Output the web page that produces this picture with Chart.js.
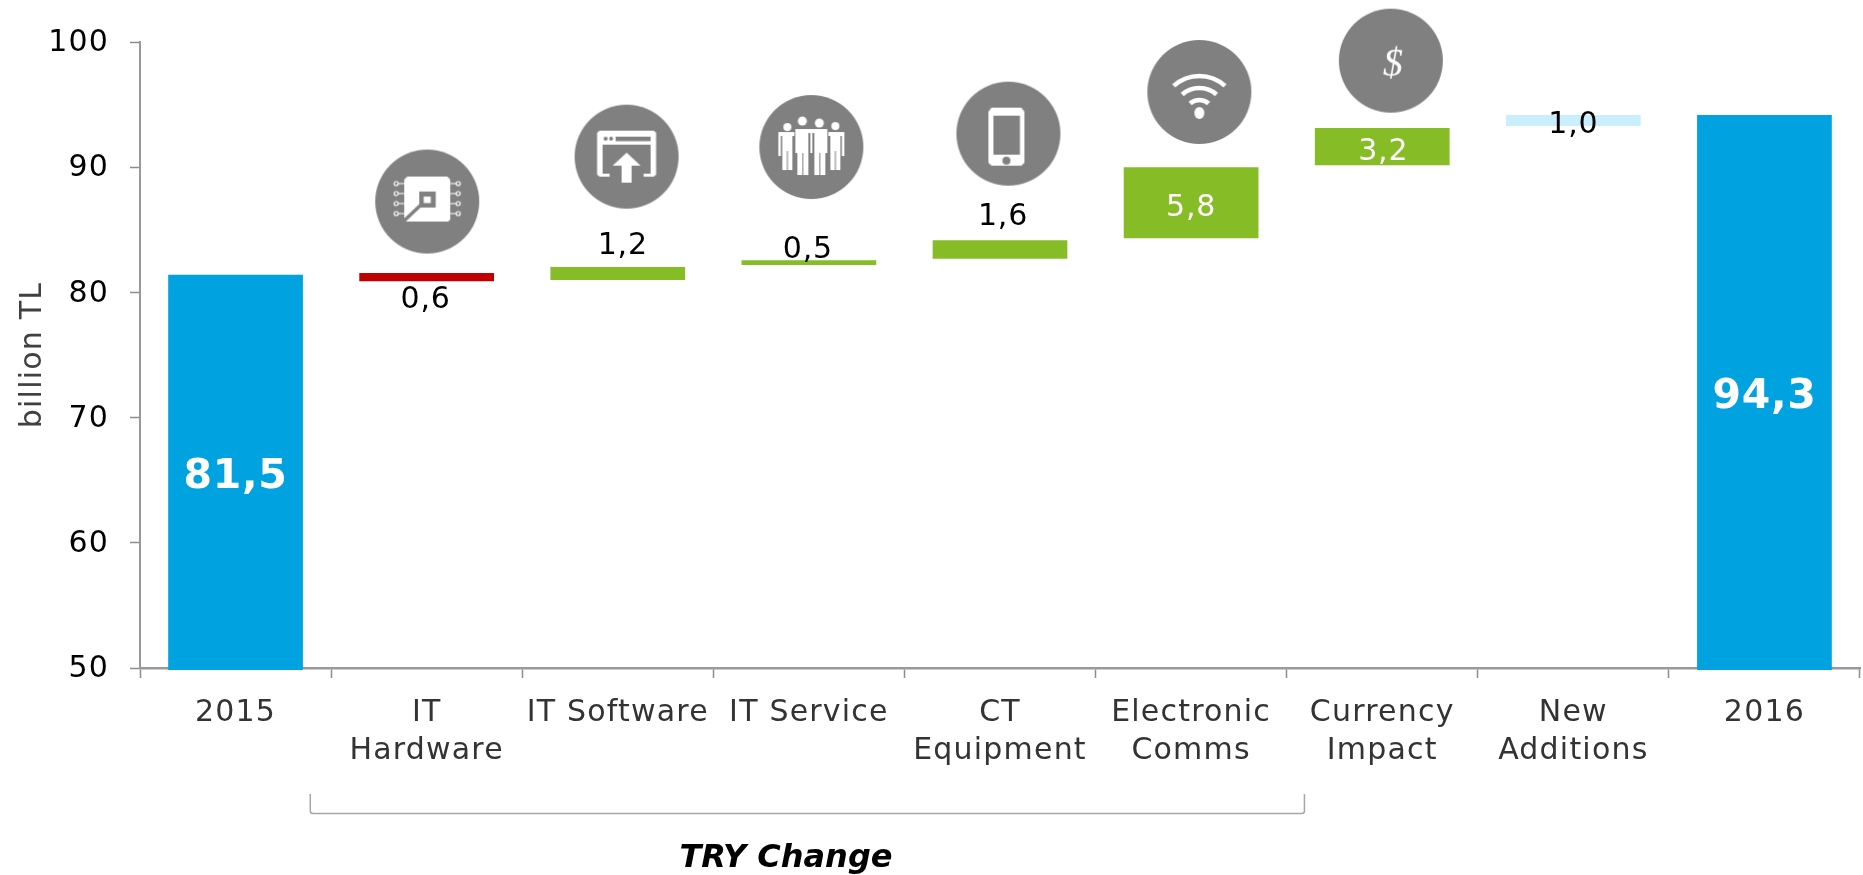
<!DOCTYPE html>
<html>
<head>
<meta charset="utf-8">
<title>Waterfall</title>
<style>html,body{margin:0;padding:0;background:#fff;overflow:hidden}canvas{display:block}</style>
<script src="https://cdn.jsdelivr.net/npm/chart.js@4/dist/chart.umd.min.js"></script>
</head>
<body>
<canvas id="c" width="1863" height="875"></canvas>
<script>
// ---------- data ----------
const categories = [["2015"],["IT","Hardware"],["IT Software"],["IT Service"],["CT","Equipment"],["Electronic","Comms"],["Currency","Impact"],["New","Additions"],["2016"]];
const barLow  = [49.85, 80.90, 81.00, 82.19, 82.69, 84.32, 90.15, 93.29, 49.85];
const barHigh = [81.41, 81.55, 82.03, 82.56, 84.16, 89.99, 93.13, 94.17, 94.17];
const valueLabels = ["81,5","0,6","1,2","0,5","1,6","5,8","3,2","1,0","94,3"];
const barColors = ["#00A3E0","#C00000","#86BC25","#86BC25","#86BC25","#86BC25","#86BC25","#C9EEFF","#00A3E0"];
const yTicks = [50,60,70,80,90,100];
const iconX = [1.503, 2.546, 3.513, 4.544, 5.543, 6.545];
const iconY = [87.26, 90.84, 91.61, 92.68, 96.01, 98.51];
const yTitle = "billion TL";
const groupLabel = "TRY Change";

// ---------- label layout: pixel offset from the bar centre, colour, weight ----------
const labelDx = [0,-1,5,-1,3,0,1,0,0];
const labelDy = [1,20,-30,-16,-36,2,2,1,1];
const labelColor = ["#fff","#000","#000","#000","#000","#fff","#fff","#000","#fff"];
const labelBold = [true,false,false,false,false,false,false,false,true];

// ---------- icons ----------
const GREY = "#808080";
function iconCanvas(draw){
  const c = document.createElement("canvas"); c.width = 106; c.height = 106;
  const g = c.getContext("2d");
  g.translate(53,53);
  g.fillStyle = GREY; g.beginPath(); g.arc(0,0,52,0,Math.PI*2); g.fill();
  g.fillStyle = "#fff"; g.strokeStyle = "#fff";
  draw(g);
  return c;
}
function poly(g,pts){g.beginPath();pts.forEach((p,i)=>i?g.lineTo(p[0],p[1]):g.moveTo(p[0],p[1]));g.closePath();g.fill();}
const icons = [
  iconCanvas(g=>{ // chip
    poly(g,[[-20,-25],[20,-25],[23,-22],[23,18],[21,20],[-23,20],[-23,-22]]);
    g.lineWidth=1.2;
    [-18,-8,2,12].forEach(y=>{
      g.beginPath();g.moveTo(-23,y);g.lineTo(-29,y);g.moveTo(23,y);g.lineTo(29,y);g.stroke();
      g.beginPath();g.arc(-31,y,2,0,7);g.stroke();
      g.beginPath();g.arc(31,y,2,0,7);g.stroke();
    });
    g.fillStyle=GREY; g.fillRect(-8,-10,16.5,16);
    g.fillStyle="#fff"; g.fillRect(-3.5,-5,7,6.5);
    g.strokeStyle=GREY; g.lineWidth=3.5; g.beginPath(); g.moveTo(-6,3); g.lineTo(-25,21); g.stroke();
  }),
  iconCanvas(g=>{ // window with arrow
    poly(g,[[-27,-26],[27,-26],[29.5,-24],[29.5,18],[27,20],[-27,20],[-29.5,18],[-29.5,-24]]);
    g.fillStyle=GREY;
    g.fillRect(-24,-12,48,29);
    g.fillRect(-11,-20,35,4.5);
    g.beginPath();g.arc(-21,-18,2,0,7);g.arc(-15.5,-18,2,0,7);g.fill();
    g.fillRect(-17,14,34,7);
    g.fillStyle="#fff";
    poly(g,[[0,-4],[14,9],[5,9],[5,26],[-5,26],[-5,9],[-14,9]]);
  }),
  iconCanvas(g=>{ // people
    const head=(x,y,r)=>{g.beginPath();g.arc(x,y,r,0,7);g.fill();};
    head(-24,-20,4);head(-9,-26,4.5);head(8,-24,4.5);head(24,-21,4);
    // outer figures
    g.fillRect(-33,-15,16,4);g.fillRect(17,-15,16,4);
    g.fillRect(-33,-15,2.5,24);g.fillRect(30.5,-15,2.5,24);
    g.fillRect(-29,-15,10,38);g.fillRect(19,-15,10,38);
    // inner figures
    g.fillRect(-16,-18,15,4);g.fillRect(1,-18,15,4);
    g.fillRect(-14,-18,11,46);g.fillRect(3,-18,11,46);
    g.fillRect(-16,-18,2,24);g.fillRect(14,-18,2,24);
    g.fillRect(-1,-18,2,24);
    g.fillStyle=GREY;
    g.fillRect(-9,6,1,22);g.fillRect(8,6,1,22);
    g.fillRect(-24.5,4,1,19);g.fillRect(23.5,4,1,19);
  }),
  iconCanvas(g=>{ // phone
    poly(g,[[-17,-26],[13,-26],[16,-22],[16,29],[13,32],[-17,32],[-20,29],[-20,-22]]);
    g.fillStyle=GREY; g.fillRect(-15,-18,26.5,39);
    g.beginPath(); g.arc(-2,27,4,0,7); g.fill();
  }),
  iconCanvas(g=>{ // wifi
    g.beginPath(); g.ellipse(0,21,5,6,0,0,7); g.fill();
    g.lineWidth=4.5;
    [[14,.72],[26,.72],[38,.74]].forEach(a=>{
      g.beginPath(); g.arc(0,22,a[0],-Math.PI/2-a[1],-Math.PI/2+a[1]); g.stroke();
    });
  }),
  iconCanvas(g=>{ // dollar
    g.font='italic 40px "Liberation Serif"'; g.textAlign="center"; g.textBaseline="middle";
    g.fillText("$",2,4);
  })
];

// ---------- plugins ----------
const overlay = {
  id:"overlay",
  beforeDraw(chart){ chart.ctx.letterSpacing = "1.2px"; },
  afterDatasetsDraw(chart){
    const ctx = chart.ctx, xs = chart.scales.xIcon;
    const bars = chart.getDatasetMeta(0).data;
    ctx.save();
    ctx.textAlign = "center"; ctx.textBaseline = "alphabetic";
    bars.forEach((b,i)=>{
      const cy = (b.y + b.base)/2;
      const bold = labelBold[i];
      ctx.letterSpacing = bold ? "0.7px" : "0.8px";
      ctx.font = bold ? 'bold 41px "DejaVu Sans"' : '30px "DejaVu Sans"';
      ctx.fillStyle = labelColor[i];
      ctx.fillText(valueLabels[i], b.x + labelDx[i], cy + labelDy[i] + (bold ? 15 : 11));
    });
    // bracket under the TRY change categories
    const l = xs.getPixelForValue(0.891), r = xs.getPixelForValue(6.093);
    ctx.strokeStyle = "#a6a6a6"; ctx.lineWidth = 1.5;
    ctx.beginPath();
    ctx.moveTo(l,794); ctx.lineTo(l,811); ctx.quadraticCurveTo(l,813.5,l+3,813.5);
    ctx.lineTo(r-3,813.5); ctx.quadraticCurveTo(r,813.5,r,811); ctx.lineTo(r,794);
    ctx.stroke();
    ctx.letterSpacing = "0px";
    ctx.font = 'italic bold 32px "DejaVu Sans"';
    ctx.fillStyle = "#000";
    ctx.fillText(groupLabel, xs.getPixelForValue(3.38), 867);
    ctx.restore();
  }
};

// ---------- chart ----------
new Chart(document.getElementById("c"),{
  type:"bar",
  data:{
    labels:categories,
    datasets:[
      {
        data:barLow.map((v,i)=>[v,barHigh[i]]),
        backgroundColor:barColors,
        borderWidth:0,
        barPercentage:0.705,
        categoryPercentage:1,
        grouped:false,
        clip:false,
        order:2
      },
      {
        type:"scatter",
        xAxisID:"xIcon",
        data:iconX.map((x,i)=>({x:x,y:iconY[i]})),
        pointStyle:icons,
        clip:false,
        order:1
      }
    ]
  },
  options:{
    responsive:false,
    animation:false,
    layout:{autoPadding:false,padding:{top:42,right:3,left:0,bottom:0}},
    plugins:{legend:{display:false},tooltip:{enabled:false}},
    scales:{
      x:{
        type:"category",
        offset:true,
        afterFit(s){ s.height = 207; s.paddingLeft = 0; s.paddingRight = 0; },
        border:{color:"#999",width:2.5},
        grid:{offset:true,drawOnChartArea:false,drawTicks:true,tickLength:10,tickColor:"#8c8c8c",tickWidth:1.5},
        ticks:{autoSkip:false,maxRotation:0,minRotation:0,padding:16,color:"#333",
          font:{family:'"DejaVu Sans"',size:30,lineHeight:1.27}}
      },
      xIcon:{type:"linear",min:0,max:9,offset:false,display:false},
      y:{
        type:"linear",
        min:50,max:100,
        afterBuildTicks(s){ s.ticks = yTicks.map(v=>({value:v})); },
        afterFit(s){ s.width = 140; },
        border:{color:"#999",width:2},
        grid:{drawOnChartArea:false,drawTicks:true,tickLength:10,tickColor:"#8c8c8c",tickWidth:1.5},
        ticks:{padding:21,labelOffset:1.5,color:"#000",font:{family:'"DejaVu Sans"',size:30}},
        title:{display:true,text:yTitle,color:"#404040",padding:{top:15,bottom:0},
          font:{family:'"DejaVu Sans"',size:30,lineHeight:1.2}}
      }
    }
  },
  plugins:[overlay]
});
</script>
</body>
</html>
